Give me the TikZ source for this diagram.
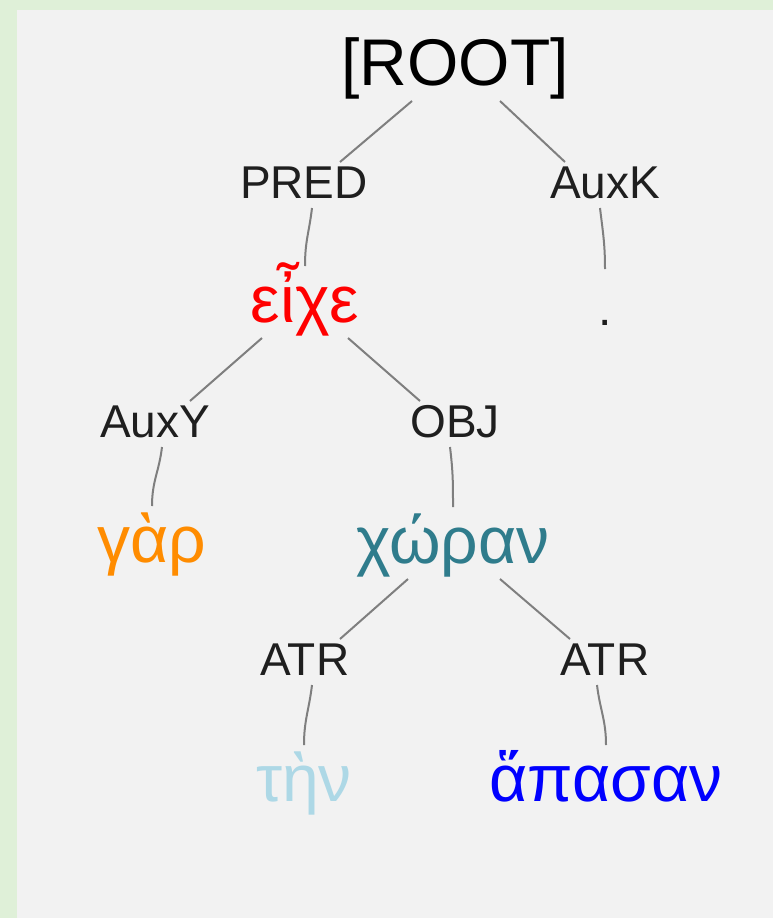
\documentclass[tikz,border=0pt]{standalone}
\usepackage{fontspec}
\setmainfont{Liberation Sans}
\usepackage{xcolor}
\definecolor{panelgreen}{HTML}{DFF0D8}
\definecolor{panelgray}{HTML}{F2F2F2}
\definecolor{linkgray}{HTML}{7F7F7F}
\definecolor{wordteal}{HTML}{2F7C8C}
\definecolor{wordlight}{HTML}{ADD8E6}
\definecolor{wordorange}{HTML}{FF8C00}

\begin{document}
\begin{tikzpicture}[x=1pt,y=-1pt,
    word/.style={anchor=base,inner sep=0pt,outer sep=0pt,text height=56pt,text depth=16pt,
      font=\fontsize{66}{70}\selectfont},
    rel/.style={anchor=base,inner sep=0pt,outer sep=0pt,text height=36pt,text depth=10pt,
      font=\fontsize{46}{50}\selectfont,text=black!88},
    branch/.style={draw=linkgray,line width=2pt}]
        % Hintergrund
        \fill[panelgreen] (0,0) rectangle (773,918);
        \fill[panelgray] (17,10) rectangle (773,918);
        % Woerter und Relationen
        \node[word] (root) at (455,85) {[ROOT]};
        \node[rel] (pred) at (304,198) {PRED};
        \node[rel] (auxk) at (605,198) {AuxK};
        \node[word,text=red] (eixe) at (305,322) {εἶχε};
        \node[word,text=black!88,font=\fontsize{48}{50}\selectfont] (dot) at (605,325) {.};
        \node[rel] (auxy) at (155,437) {AuxY};
        \node[rel] (obj) at (455,437) {OBJ};
        \node[word,text=wordorange] (gar) at (152,562) {γὰρ};
        \node[word,text=wordteal] (choran) at (453,563) {χώραν};
        \node[rel] (atrl) at (305,675) {ATR};
        \node[rel] (atrr) at (605,675) {ATR};
        \node[word,text=wordlight] (ten) at (304,801) {τὴν};
        \node[word,text=blue] (hapasan) at (606,801) {ἅπασαν};
        % obere Kanten
        \draw[branch] ([xshift=-43pt]root.south) -- ([xshift=36pt]pred.north);
        \draw[branch] ([xshift=45pt]root.south) -- ([xshift=-40pt]auxk.north);
        \draw[branch] ([xshift=-43pt]eixe.south) -- ([xshift=35pt]auxy.north);
        \draw[branch] ([xshift=43pt]eixe.south) -- ([xshift=-35pt]obj.north);
        \draw[branch] ([xshift=-45pt]choran.south) -- ([xshift=35pt]atrl.north);
        \draw[branch] ([xshift=47pt]choran.south) -- ([xshift=-35pt]atrr.north);
        % untere Kanten
        \draw[branch] ([xshift=8pt]pred.south) .. controls +(-3,25) and +(0,-25) .. (eixe.north);
        \draw[branch] ([xshift=-5pt]auxk.south) .. controls +(3,25) and +(0,-25) .. (dot.north);
        \draw[branch] ([xshift=7pt]auxy.south) .. controls +(-3,25) and +(0,-25) .. (gar.north);
        \draw[branch] ([xshift=-5pt]obj.south) .. controls +(3,25) and +(0,-25) .. (choran.north);
        \draw[branch] ([xshift=7pt]atrl.south) .. controls +(-3,25) and +(0,-25) .. (ten.north);
        \draw[branch] ([xshift=-8pt]atrr.south) .. controls +(3,25) and +(0,-25) .. (hapasan.north);
\end{tikzpicture}
\end{document}
